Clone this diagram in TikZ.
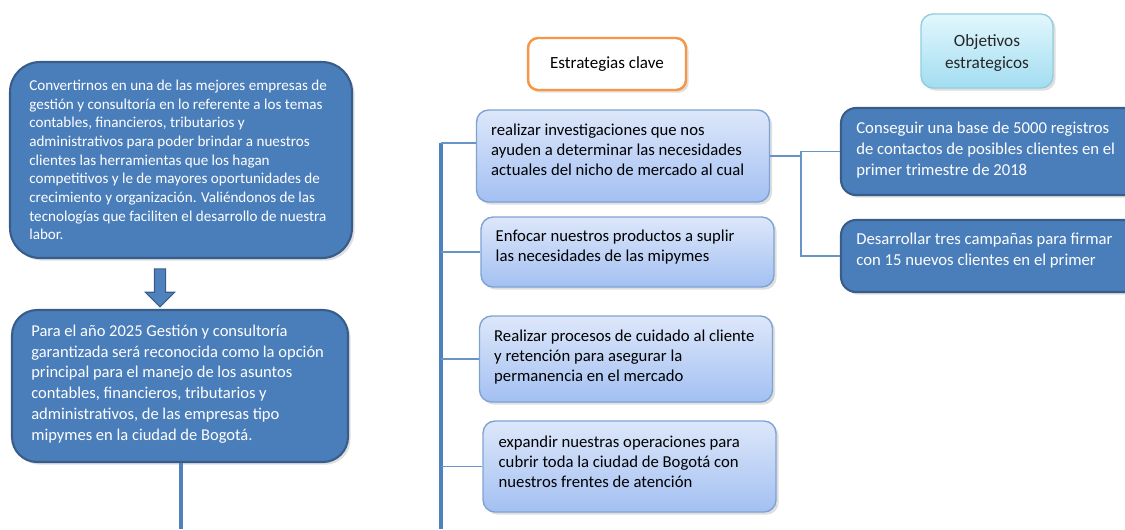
\documentclass[tikz,border=0pt]{standalone}
\usepackage{fontspec}
\setmainfont{Carlito}
\usetikzlibrary{shapes.arrows,shadows}

\definecolor{boxblue}{HTML}{4A7EBB}
\definecolor{boxedge}{HTML}{385D8A}
\definecolor{lineblue}{HTML}{4F81BD}
\definecolor{paletop}{HTML}{DDE7FA}
\definecolor{palebot}{HTML}{A3C0F2}
\definecolor{paleedge}{HTML}{7EA3D3}
\definecolor{orangeedge}{HTML}{F79646}
\definecolor{cyantop}{HTML}{E2F7FD}
\definecolor{cyanbot}{HTML}{A2DDF1}
\definecolor{cyanedge}{HTML}{93CDDD}

\begin{document}
\begin{tikzpicture}[x=0.02cm, y=-0.02cm,
  soft shadow/.style = {drop shadow={opacity=0.25, shadow xshift=1.5pt, shadow yshift=-1.5pt}},
  darkbox/.style = {draw=boxedge, line width=1.2pt, fill=boxblue, soft shadow},
  palebox/.style = {draw=paleedge, line width=0.8pt, top color=paletop, bottom color=palebot,
    rounded corners=0.24cm, minimum width=5.86cm, soft shadow},
  goalbox/.style = {darkbox, rounded corners=0.3cm, minimum width=6.2cm},
  boxtext/.style = {anchor=west, align=left, inner sep=0pt},
  darktext/.style = {boxtext, text=white},
  paletext/.style = {boxtext, font=\fontsize{9.5}{11.4}\selectfont},
  trunk/.style = {draw=lineblue, line width=2.2pt},
  branch/.style = {draw=lineblue!85, line width=0.7pt}
  ]
	\useasboundingbox (0,0) rectangle (1125,529);
	\clip (0,0) rectangle (1125,529);

	% mision y vision
	\node[darkbox, rounded corners=0.6cm, minimum width=6.84cm, minimum height=3.92cm] (mision) at (181,160) {};
	\node[darktext, font=\fontsize{8.6}{10.6}\selectfont] (misiontxt) at ([xshift=0.4cm]mision.west) {Convertirnos en una de las mejores empresas de\\
	  gestión y consultoría en lo referente a los temas\\
	  contables, financieros, tributarios y\\
	  administrativos para poder brindar a nuestros\\
	  clientes las herramientas que los hagan\\
	  competitivos y le de mayores oportunidades de\\
	  crecimiento y organización. Valiéndonos de las\\
	  tecnologías que faciliten el desarrollo de nuestra\\
	  labor.};
	\node[darkbox, rounded corners=0.5cm, minimum width=6.72cm, minimum height=3.04cm] (vision) at (180,386) {};
	\node[darktext, font=\fontsize{9.4}{11.8}\selectfont] (visiontxt) at ([xshift=0.4cm,yshift=0.04cm]vision.west) {Para el año 2025 Gestión y consultoría\\
	  garantizada será reconocida como la opción\\
	  principal para el manejo de los asuntos\\
	  contables, financieros, tributarios y\\
	  administrativos, de las empresas tipo\\
	  mipymes en la ciudad de Bogotá.};
	\node[single arrow, draw=boxedge, fill=lineblue, line width=0.6pt, shape border rotate=270,
	  minimum height=0.76cm, inner sep=0.1cm, single arrow head extend=0.18cm,
	  single arrow head indent=0pt] (arr) at (160,285) {};
	\coordinate (vend) at (181,529);
	\draw[trunk] (vision.south -| vend) -- (vend);

	% encabezados
	\node[draw=orangeedge, line width=1.4pt, fill=white, rounded corners=0.2cm, minimum width=3.16cm,
	  minimum height=1.04cm, font=\fontsize{9.7}{11.6}\selectfont, soft shadow] (clave) at (607,64) {Estrategias clave};
	\node[draw=cyanedge, line width=0.8pt, top color=cyantop, bottom color=cyanbot, rounded corners=0.24cm,
	  minimum width=2.64cm, minimum height=1.48cm, soft shadow] (objet) at (987,51) {};
	\node[align=center, inner sep=0pt, text=black!85, font=\fontsize{9.8}{12}\selectfont] (objettxt)
	  at ([yshift=-0.04cm]objet.center) {Objetivos\\estrategicos};

	% estrategias
	\node[palebox, minimum height=1.84cm] (s1) at (623,156) {};
	\node[paletext] (s1txt) at ([xshift=0.3cm,yshift=0.12cm]s1.west) {realizar investigaciones que nos\\
	  ayuden a determinar las necesidades\\
	  actuales del nicho de mercado al cual};
	\node[palebox, minimum height=1.4cm] (s2) at (627.5,252) {};
	\node[paletext] (s2txt) at ([xshift=0.3cm,yshift=0.1cm]s2.west) {Enfocar nuestros productos a suplir\\
	  las necesidades de las mipymes};
	\node[palebox, minimum height=1.72cm] (s3) at (626,359) {};
	\node[paletext] (s3txt) at ([xshift=0.3cm,yshift=0.03cm]s3.west) {Realizar procesos de cuidado al cliente\\
	  y retención para asegurar la\\
	  permanencia en el mercado};
	\node[palebox, minimum height=1.82cm] (s4) at (629.5,466.5) {};
	\node[paletext] (s4txt) at ([xshift=0.32cm,yshift=0.1cm]s4.west) {expandir nuestras operaciones para\\
	  cubrir toda la ciudad de Bogotá con\\
	  nuestros frentes de atención};

	\coordinate (t1) at (441,143);
	\coordinate (tend) at (441,529);
	\draw[trunk] (t1) -- (tend);
	\draw[branch] (t1) -- (t1 -| s1.west);
	\draw[branch] (s2.west -| t1) -- (s2.west);
	\draw[branch] (s3.west -| t1) -- (s3.west);
	\draw[branch] (s4.west -| t1) -- (s4.west);

	% objetivos
	\node[goalbox, minimum height=1.74cm] (o1) at (996,151.5) {};
	\node[darktext, font=\fontsize{9.5}{11.9}\selectfont] (o1txt) at ([xshift=0.32cm,yshift=0.03cm]o1.west) {Conseguir una base de 5000 registros\\
	  de contactos de posibles clientes en el\\
	  primer trimestre de 2018};
	\node[goalbox, minimum height=1.44cm] (o2) at (996,256) {};
	\node[darktext, font=\fontsize{9.5}{11.9}\selectfont] (o2txt) at ([xshift=0.32cm,yshift=0.11cm]o2.west) {Desarrollar tres campañas para firmar\\
	  con 15 nuevos clientes en el primer};

	\coordinate (j) at (801,153);
	\draw[branch] (s1.east) -- (s1.east -| j);
	\draw[branch] (o1.west) -- (o1.west -| j) -- (o2.west -| j) -- (o2.west);

\end{tikzpicture}
\end{document}
